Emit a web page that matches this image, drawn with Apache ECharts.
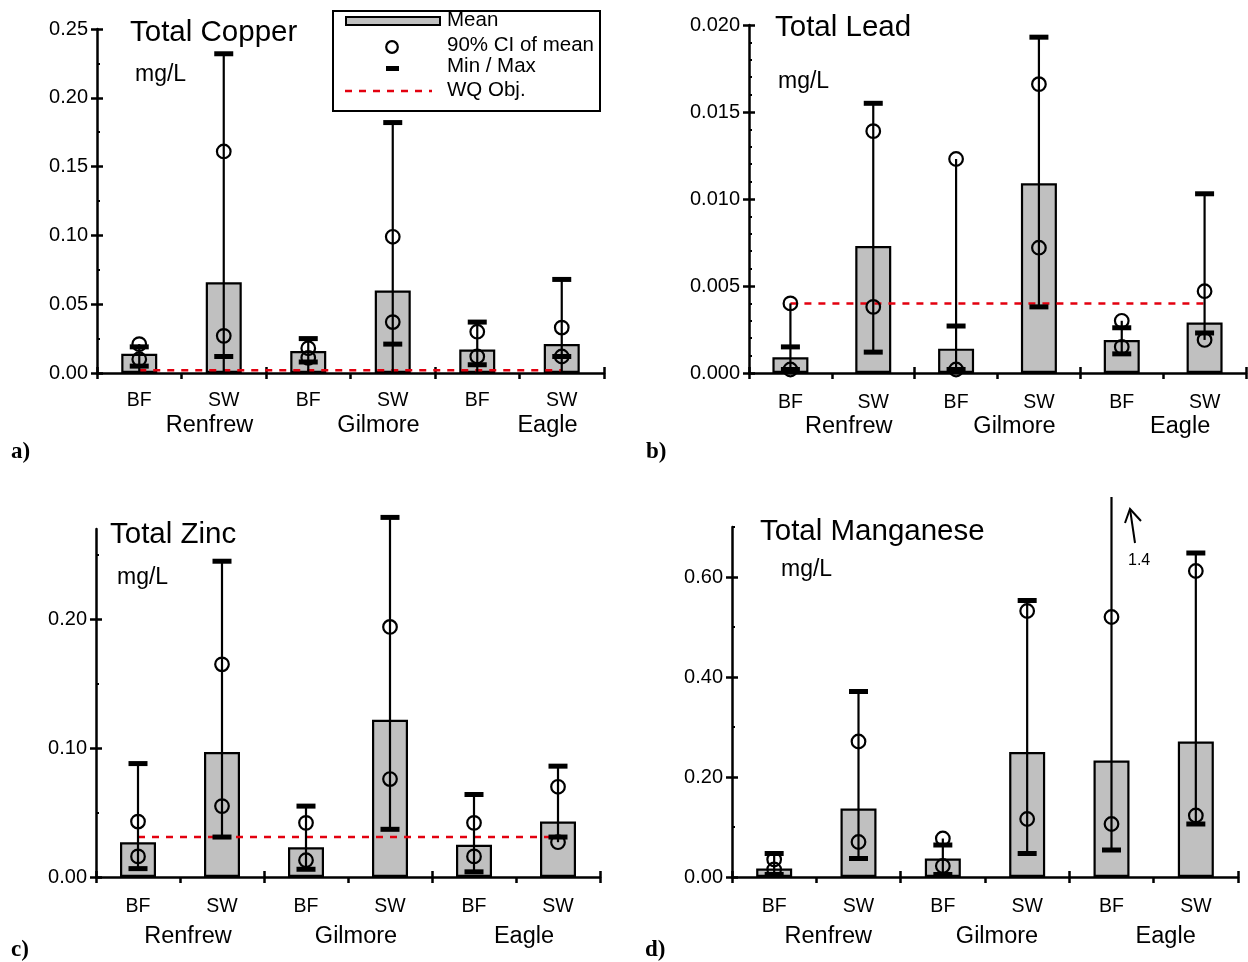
<!DOCTYPE html>
<html>
<head>
<meta charset="utf-8">
<title>Total metals</title>
<script src="https://cdn.jsdelivr.net/npm/echarts@6/dist/echarts.min.js"></script>
<style>
  html, body { margin: 0; padding: 0; background: #fff; }
  #echarts { width: 1248px; height: 962px; }
</style>
</head>
<body>
<div id="echarts"></div>
<script>
// categories
const sites = ['Renfrew', 'Gilmore', 'Eagle'];
const categories = ['Renfrew BF', 'Renfrew SW', 'Gilmore BF', 'Gilmore SW', 'Eagle BF', 'Eagle SW'];

// a) Total Copper, mg/L
const cuMean   = [0.014, 0.066, 0.016, 0.060, 0.017, 0.021];
const cuCiLow  = [0.010, 0.027, 0.011, 0.037, 0.012, 0.012];
const cuCiHigh = [0.021, 0.161, 0.018, 0.099, 0.030, 0.033];
const cuMin    = [0.005, 0.012, 0.008, 0.021, 0.006, 0.012];
const cuMax    = [0.019, 0.232, 0.025, 0.182, 0.037, 0.068];
const cuWqObj  = 0.002;
const cuTicks  = [0, 0.05, 0.10, 0.15, 0.20, 0.25];

// b) Total Lead, mg/L
const pbMean   = [0.0009, 0.0073, 0.0014, 0.0109, 0.0019, 0.0029];
const pbCiLow  = [0.0002, 0.0038, 0.0002, 0.0072, 0.0015, 0.0019];
const pbCiHigh = [0.0040, 0.0139, 0.0123, 0.0166, 0.0030, 0.0047];
const pbMin    = [0.0002, 0.0012, 0.0002, 0.0038, 0.0011, 0.0023];
const pbMax    = [0.0015, 0.0155, 0.0027, 0.0193, 0.0026, 0.0103];
const pbWqObj  = 0.004;
const pbTicks  = [0, 0.005, 0.010, 0.015, 0.020];

// c) Total Zinc, mg/L
const znMean   = [0.027, 0.097, 0.023, 0.122, 0.025, 0.043];
const znCiLow  = [0.016, 0.055, 0.013, 0.076, 0.016, 0.027];
const znCiHigh = [0.043, 0.165, 0.042, 0.194, 0.042, 0.070];
const znMin    = [0.0065, 0.031, 0.006, 0.037, 0.004, 0.031];
const znMax    = [0.088, 0.245, 0.055, 0.279, 0.064, 0.086];
const znWqObj  = 0.031;
const znTicks  = [0, 0.10, 0.20];

// d) Total Manganese, mg/L (Eagle BF max is off scale: 1.4)
const mnMean   = [0.017, 0.137, 0.037, 0.250, 0.233, 0.271];
const mnCiLow  = [0.015, 0.070, 0.022, 0.116, 0.106, 0.123];
const mnCiHigh = [0.035, 0.271, 0.077, 0.532, 0.520, 0.612];
const mnMin    = [0.005, 0.037, 0.005, 0.047, 0.054, 0.106];
const mnMax    = [0.047, 0.371, 0.064, 0.553, 1.4, 0.648];
const mnTicks  = [0, 0.20, 0.40, 0.60];
const mnCutValue = 0.76;   // whisker drawn up to here, then annotated

const FONT = "'Liberation Sans', Arial, sans-serif";
const SERIF = "'Liberation Serif', 'Times New Roman', serif";

const chartDom = document.getElementById('echarts');
const myChart = echarts.init(chartDom, null, { renderer: 'canvas' });

const panels = [
    {
        grid: { left: 97, top: 29, width: 507, height: 344 },
        max: 0.25, ticks: cuTicks, minorSplit: 2, digits: 2,
        mean: cuMean, ciLow: cuCiLow, ciHigh: cuCiHigh, min: cuMin, max2: cuMax,
        wq: cuWqObj, fromZero: true, cut: Infinity,
        catMargin: 18, siteMargin: 41, siteShift: 28
    },
    {
        grid: { left: 749, top: 25, width: 497, height: 348 },
        max: 0.02, ticks: pbTicks, minorSplit: 5, digits: 3,
        mean: pbMean, ciLow: pbCiLow, ciHigh: pbCiHigh, min: pbMin, max2: pbMax,
        wq: pbWqObj, fromZero: false, cut: Infinity,
        catMargin: 20, siteMargin: 42, siteShift: 17
    },
    {
        grid: { left: 96, top: 529, width: 504, height: 348 },
        max: 0.27, ticks: znTicks, minorSplit: 2, digits: 2,
        mean: znMean, ciLow: znCiLow, ciHigh: znCiHigh, min: znMin, max2: znMax,
        wq: znWqObj, fromZero: false, cut: Infinity,
        catMargin: 20, siteMargin: 48, siteShift: 8
    },
    {
        grid: { left: 732, top: 527, width: 506, height: 350 },
        max: 0.70, ticks: mnTicks, minorSplit: 2, digits: 2,
        mean: mnMean, ciLow: mnCiLow, ciHigh: mnCiHigh, min: mnMin, max2: mnMax,
        wq: null, fromZero: false, cut: mnCutValue,
        catMargin: 20, siteMargin: 48, siteShift: 12
    }
];

function minorValues(majors, max, n) {
    const step = (majors[1] - majors[0]) / n;
    const out = [];
    for (let k = 1; k * step <= max + 1e-9; k++) {
        if (k % n !== 0) out.push(+(k * step).toFixed(6));
    }
    return out;
}

const grids = [], xAxes = [], yAxes = [], series = [];

panels.forEach((p, i) => {
    grids.push(p.grid);
    const axisLine = { show: true, onZero: false, lineStyle: { color: '#000', width: 2.5 } };
    // x: main axis (outside ticks + labels), overlay (inside ticks), site names
    xAxes.push({
        gridIndex: i, type: 'category', data: categories, position: 'bottom',
        axisLine: axisLine,
        axisTick: { show: true, inside: false, length: 6, lineStyle: { color: '#000', width: 2.5 } },
        axisLabel: {
            color: '#000', fontFamily: FONT, fontSize: 19.5, margin: p.catMargin,
            formatter: v => v.split(' ')[1]
        },
        splitLine: { show: false }
    });
    xAxes.push({
        gridIndex: i, type: 'category', data: categories, position: 'bottom',
        axisLine: { show: false },
        axisTick: { show: true, inside: true, length: 6, lineStyle: { color: '#000', width: 2.5 } },
        axisLabel: { show: false }, splitLine: { show: false }
    });
    xAxes.push({
        gridIndex: i, type: 'category', data: sites, position: 'bottom',
        axisLine: { show: false }, axisTick: { show: false },
        axisLabel: {
            color: '#000', fontFamily: FONT, fontSize: 23.5, margin: p.siteMargin,
            padding: [0, 0, 0, 2 * p.siteShift]
        },
        splitLine: { show: false }
    });
    // y: main axis, inside major ticks, inside minor ticks
    yAxes.push({
        gridIndex: i, type: 'value', min: 0, max: p.max, position: 'left',
        axisLine: axisLine,
        axisTick: { show: true, inside: false, length: 6, customValues: p.ticks,
            lineStyle: { color: '#000', width: 2.5 } },
        axisLabel: { color: '#000', fontFamily: FONT, fontSize: 20, margin: 9,
            customValues: p.ticks, formatter: v => Number(v).toFixed(p.digits) },
        splitLine: { show: false }
    });
    yAxes.push({
        gridIndex: i, type: 'value', min: 0, max: p.max, position: 'left',
        axisLine: { show: false },
        axisTick: { show: true, inside: true, length: 6, customValues: p.ticks,
            lineStyle: { color: '#000', width: 2.5 } },
        axisLabel: { show: false }, splitLine: { show: false }
    });
    yAxes.push({
        gridIndex: i, type: 'value', min: 0, max: p.max, position: 'left',
        axisLine: { show: false },
        axisTick: { show: true, inside: true, length: 3,
            customValues: minorValues(p.ticks, p.max, p.minorSplit),
            lineStyle: { color: '#000', width: 2 } },
        axisLabel: { show: false }, splitLine: { show: false }
    });

    const xi = 3 * i, yi = 3 * i;

    // mean bars
    series.push({
        type: 'bar', xAxisIndex: xi, yAxisIndex: yi,
        data: p.mean, barWidth: 36, z: 2,
        itemStyle: { color: '#c0c0c0', borderColor: '#000', borderWidth: 2.2 },
        silent: true
    });

    // WQ objective
    if (p.wq !== null) {
        series.push({
            type: 'line', xAxisIndex: xi, yAxisIndex: yi,
            data: categories.map(() => p.wq),
            symbol: 'none', z: 3, silent: true,
            lineStyle: { color: '#e3000f', width: 2.5, type: [7, 7] }
        });
    }

    // CI circles, min/max ticks and whisker line
    const errData = categories.map((c, k) => [k, p.ciLow[k], p.ciHigh[k], p.min[k], p.max2[k]]);
    series.push({
        type: 'custom', xAxisIndex: xi, yAxisIndex: yi, z: 4, silent: true,
        data: errData,
        encode: { x: 0, y: [1, 2, 3, 4] },
        renderItem: (params, api) => {
            const k = api.value(0);
            const ciLo = api.value(1), ciHi = api.value(2);
            const mn = api.value(3), mx = api.value(4);
            const x = api.coord([k, 0])[0];
            const yOf = v => api.coord([k, v])[1];
            const lo = p.fromZero ? 0 : Math.min(ciLo, ciHi, mn, mx);
            const hi = Math.min(Math.max(ciLo, ciHi, mn, mx), p.cut);
            const children = [{
                type: 'line',
                shape: { x1: x, y1: yOf(lo), x2: x, y2: yOf(hi) },
                style: { stroke: '#000', lineWidth: 2.2 }
            }];
            [mn, mx].forEach(v => {
                if (v > p.cut) return;
                children.push({
                    type: 'rect',
                    shape: { x: x - 9.5, y: yOf(v) - 2.5, width: 19, height: 5 },
                    style: { fill: '#000' }
                });
            });
            [ciLo, ciHi].forEach(v => {
                children.push({
                    type: 'circle',
                    shape: { cx: x, cy: yOf(v), r: 6.8 },
                    style: { fill: 'none', stroke: '#000', lineWidth: 2.2 }
                });
            });
            return { type: 'group', children: children };
        }
    });
});

function txt(x, y, text, size, extra) {
    return Object.assign({
        type: 'text', x: x, y: y, z: 100,
        style: {
            text: text, fill: '#000', font: size + 'px ' + FONT,
            align: 'left', verticalAlign: 'middle',
            textAlign: 'left', textVerticalAlign: 'middle'
        }
    }, extra || {});
}

function letter(x, y, text) {
    return {
        type: 'text', x: x, y: y, z: 100,
        style: {
            text: text, fill: '#000', font: 'bold 23px ' + SERIF,
            align: 'left', verticalAlign: 'middle',
            textAlign: 'left', textVerticalAlign: 'middle'
        }
    };
}

const graphics = [
    // titles and units
    txt(130, 33, 'Total Copper', 29.5), txt(135, 75, 'mg/L', 23),
    txt(775, 28, 'Total Lead', 29.5), txt(778, 82, 'mg/L', 23),
    txt(110, 535, 'Total Zinc', 29.5), txt(117, 578, 'mg/L', 23),
    txt(760, 532, 'Total Manganese', 29.5), txt(781, 570, 'mg/L', 23),
    // panel letters
    letter(11, 452, 'a)'), letter(646, 452, 'b)'),
    letter(11, 950, 'c)'), letter(645, 950, 'd)'),
    // legend box
    {
        type: 'rect', z: 90,
        shape: { x: 333, y: 11, width: 267, height: 100 },
        style: { fill: '#fff', stroke: '#000', lineWidth: 2 }
    },
    {
        type: 'rect', z: 95,
        shape: { x: 346, y: 17, width: 94, height: 8 },
        style: { fill: '#c0c0c0', stroke: '#000', lineWidth: 2 }
    },
    {
        type: 'circle', z: 95,
        shape: { cx: 392, cy: 47, r: 5.8 },
        style: { fill: 'none', stroke: '#000', lineWidth: 2.2 }
    },
    {
        type: 'rect', z: 95,
        shape: { x: 386, y: 66, width: 13, height: 5 },
        style: { fill: '#000' }
    },
    {
        type: 'line', z: 95,
        shape: { x1: 345, y1: 91, x2: 432, y2: 91 },
        style: { stroke: '#e3000f', lineWidth: 2.5, lineDash: [7, 7] }
    },
    txt(447, 20, 'Mean', 20.5), txt(447, 45, '90% CI of mean', 20.5),
    txt(447, 66, 'Min / Max', 20.5), txt(447, 90, 'WQ Obj.', 20.5),
    // off-scale annotation in d)
    {
        type: 'polyline', z: 95,
        shape: { points: [[1135, 543], [1130, 509]] },
        style: { stroke: '#000', lineWidth: 2, fill: null }
    },
    {
        type: 'polyline', z: 95,
        shape: { points: [[1125, 523], [1130, 509], [1141, 521]] },
        style: { stroke: '#000', lineWidth: 2, fill: null }
    },
    txt(1128, 561, '1.4', 16)
];

let option = {
    backgroundColor: '#fff',
    animation: false,
    grid: grids,
    xAxis: xAxes,
    yAxis: yAxes,
    series: series,
    graphic: graphics
};

option && myChart.setOption(option);
</script>
</body>
</html>
